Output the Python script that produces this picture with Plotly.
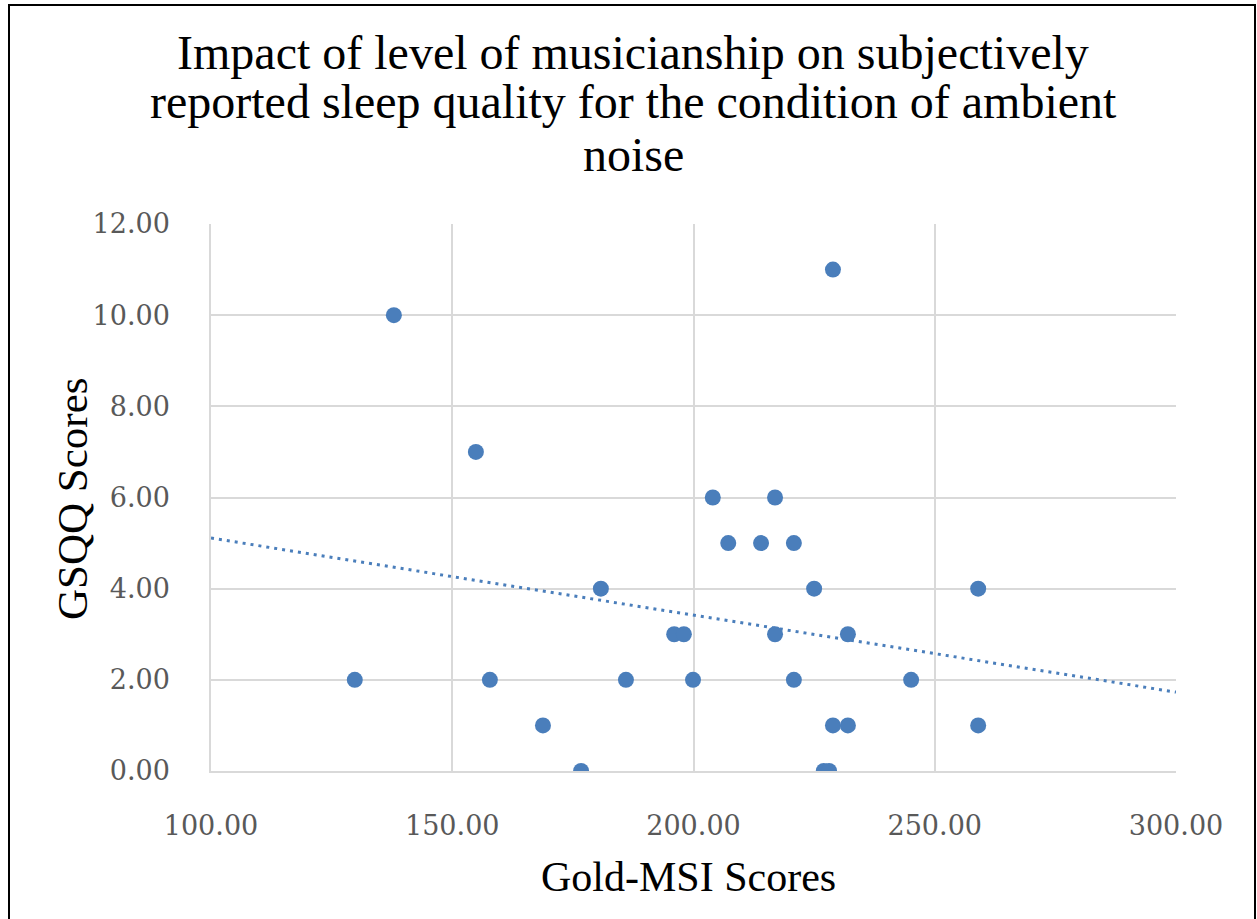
import plotly.graph_objects as go

# Gold-MSI score (x) and GSQQ score (y) per participant, ambient noise condition
gold_msi = [129.8, 137.9, 154.9, 157.8, 168.8, 176.7, 180.8, 186.0, 196.0, 198.0,
            199.9, 204.0, 207.2, 214.0, 216.9, 216.9, 220.8, 220.8, 225.0, 227.0,
            228.1, 228.9, 228.9, 232.0, 232.0, 245.1, 259.0, 259.0]
gsqq = [2, 10, 7, 2, 1, 0, 4, 2, 3, 3,
        2, 6, 5, 5, 6, 3, 5, 2, 4, 0,
        0, 11, 1, 3, 1, 2, 4, 1]

# Linear trendline, evaluated at the two ends of the x axis
trend_x = [100, 300]
trend_y = [5.11, 1.73]

x_ticks = [100, 150, 200, 250, 300]
y_ticks = [0, 2, 4, 6, 8, 10, 12]

title_lines = ["Impact of level of musicianship on subjectively",
               "reported sleep quality for the condition of ambient",
               "noise"]

BLUE = "#4a7ebb"
GRID = "#d9d9d9"
TICK = "#595959"

fig = go.Figure()
fig.add_trace(go.Scatter(
    x=trend_x, y=trend_y, mode="lines",
    line=dict(color=BLUE, width=3, dash="3px,5px"),
    hoverinfo="skip", showlegend=False))
fig.add_trace(go.Scatter(
    x=gold_msi, y=gsqq, mode="markers",
    marker=dict(color=BLUE, size=16, line=dict(width=0)),
    showlegend=False))

W, H = 1257, 919
L, R, T, B = 211, 81, 224, 148
pw, ph = W - L - R, H - T - B

def px_x(p):
    return (p - L) / pw

def px_y(p):
    return (H - B - p) / ph

serif = "Liberation Serif"
annotations = []
for line, cy in zip(title_lines, [53, 101, 154]):
    annotations.append(dict(
        text=line, xref="paper", yref="paper",
        x=px_x(633), y=px_y(cy), xanchor="center", yanchor="middle",
        showarrow=False, font=dict(family=serif, size=48, color="black")))
annotations += [
    dict(text="GSQQ Scores", textangle=-90, xref="paper", yref="paper",
         x=px_x(72), y=px_y(499), xanchor="center", yanchor="middle",
         showarrow=False, font=dict(family=serif, size=43, color="black")),
    dict(text="Gold-MSI Scores", xref="paper", yref="paper",
         x=px_x(688), y=px_y(877), xanchor="center", yanchor="middle",
         showarrow=False, font=dict(family=serif, size=42, color="black")),
]

axis_common = dict(
    showgrid=True, gridcolor=GRID, gridwidth=1.5,
    showline=True, linecolor=GRID, linewidth=1.5,
    zeroline=False, ticks="",
    tickfont=dict(family="DejaVu Serif", size=27, color=TICK))

fig.update_layout(
    width=W, height=H,
    margin=dict(l=L, r=R, t=T, b=B),
    paper_bgcolor="white", plot_bgcolor="white",
    xaxis=dict(range=[100, 300], tickvals=x_ticks,
               ticktext=[f"{v:.2f}" for v in x_ticks],
               ticklabelstandoff=30, **axis_common),
    yaxis=dict(range=[0, 12], tickvals=y_ticks,
               ticktext=[f"{v:.2f}" for v in y_ticks],
               ticklabelstandoff=34, **axis_common),
    annotations=annotations,
    shapes=[dict(type="rect", xref="paper", yref="paper",
                 x0=px_x(9), x1=px_x(1255), y0=px_y(930), y1=px_y(5),
                 line=dict(color="black", width=2), fillcolor="rgba(0,0,0,0)",
                 layer="above")],
)

fig.write_html("out.html")
